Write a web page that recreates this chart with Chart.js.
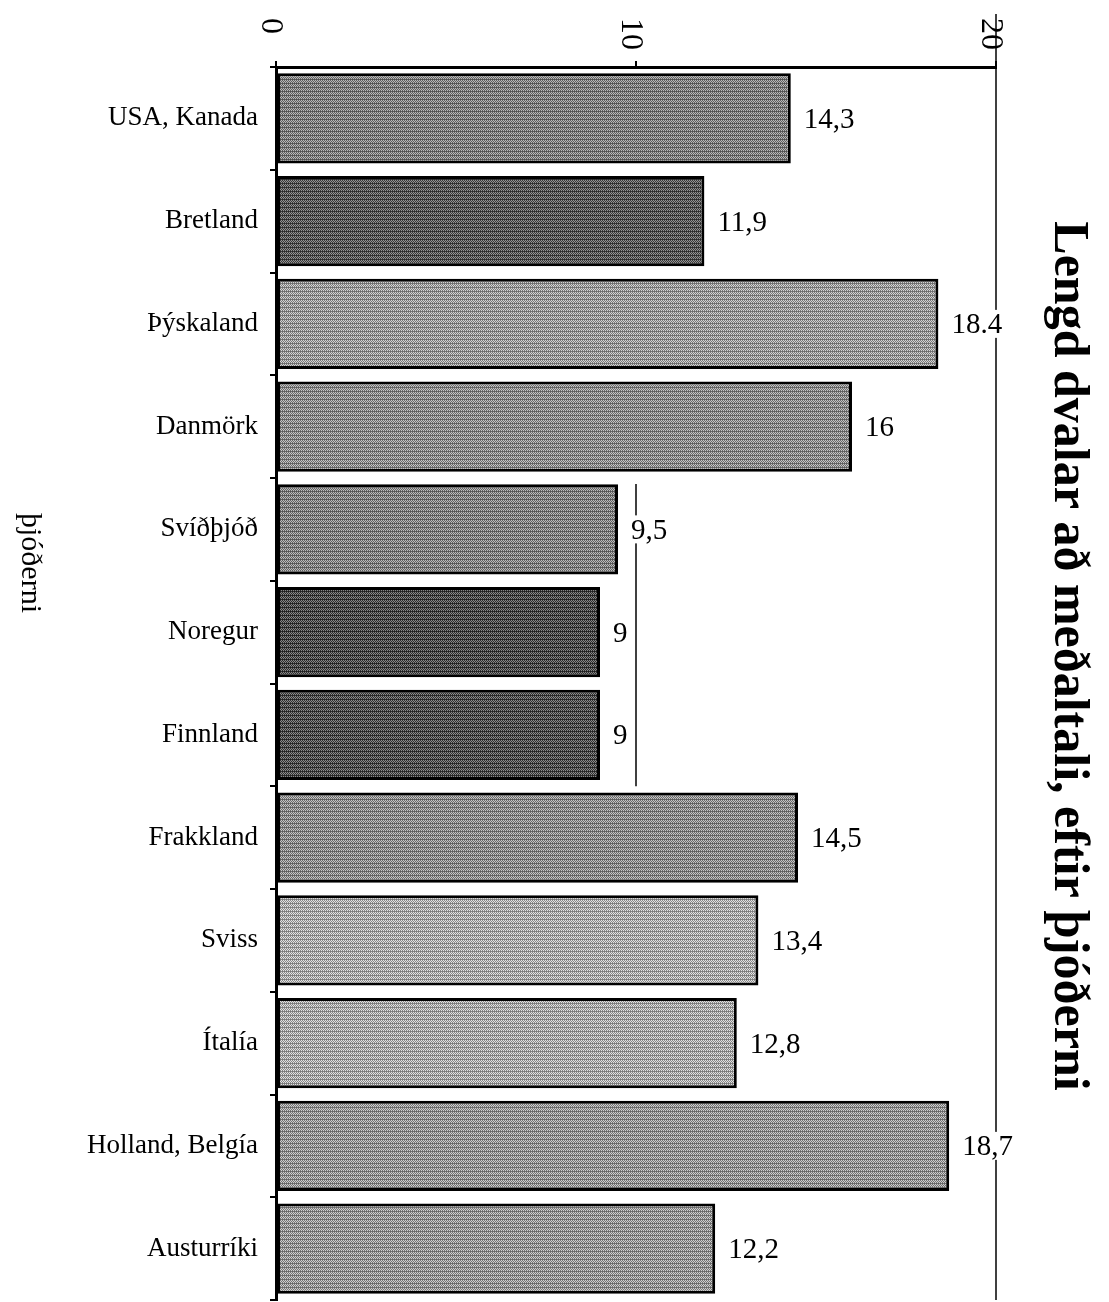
<!DOCTYPE html>
<html>
<head>
<meta charset="utf-8">
<script src="https://cdn.jsdelivr.net/npm/chart.js@4/dist/chart.umd.min.js"></script>
<style>
  html, body { margin: 0; padding: 0; background: #fff; }
  #wrap { width: 1109px; height: 1302px; }
</style>
</head>
<body>
<div id="wrap"><canvas id="chart"></canvas></div>
<script>
// data
const countries = ["USA, Kanada", "Bretland", "Þýskaland", "Danmörk", "Svíðþjóð", "Noregur",
  "Finnland", "Frakkland", "Sviss", "Ítalía", "Holland, Belgía", "Austurríki"];
const stayLength = [14.3, 11.9, 18.4, 16, 9.5, 9, 9, 14.5, 13.4, 12.8, 18.7, 12.2];
const valueLabels = ["14,3", "11,9", "18.4", "16", "9,5", "9", "9", "14,5", "13,4", "12,8", "18,7", "12,2"];
const axisTicks = [0, 10, 20];
const title = "Lengd dvalar að meðaltali, eftir þjóðerni";
const yTitle = "þjóðerni";

const barGreys = [140, 102, 166, 151, 142, 90, 94, 152, 182, 180, 160, 162];
const serif = "'Liberation Serif', 'DejaVu Serif', serif";

// small halftone-ish tile so the bars look a bit like the scanned screen
function halftone(g) {
  const c = document.createElement("canvas");
  c.width = 4; c.height = 4;
  const x = c.getContext("2d");
  for (let i = 0; i < 4; i++) {
    for (let j = 0; j < 4; j++) {
      let v = (i + j) % 2 === 0 ? g - 45 : g + 45;
      if (j === 3 && i % 2 === 0) v = g - 60;
      v = Math.max(0, Math.min(255, v));
      x.fillStyle = "rgb(" + v + "," + v + "," + v + ")";
      x.fillRect(i, j, 1, 1);
    }
  }
  return x.createPattern(c, "repeat");
}

// draws the rotated texts, value labels and the odd partial rules of the scan
const decorPlugin = {
  id: "decor",
  afterDatasetsDraw(chart) {
    const ctx = chart.ctx;
    const xs = chart.scales.x;
    const ys = chart.scales.y;
    const area = chart.chartArea;
    const half = (ys.getPixelForValue(1) - ys.getPixelForValue(0)) / 2;

    ctx.save();
    ctx.strokeStyle = "#000";
    ctx.lineWidth = 1.5;
    // rule at 20 runs the full height
    let x20 = xs.getPixelForValue(20);
    ctx.beginPath();
    ctx.moveTo(x20, 14);
    ctx.lineTo(x20, area.bottom);
    ctx.stroke();
    // rule at 10 only shows beside the short bars
    let x10 = xs.getPixelForValue(10);
    ctx.beginPath();
    ctx.moveTo(x10, ys.getPixelForValue(4) - half + 6);
    ctx.lineTo(x10, ys.getPixelForValue(6) + half);
    ctx.stroke();

    // value labels with a white box so they cut the rules
    ctx.font = "29px " + serif;
    ctx.textBaseline = "middle";
    ctx.textAlign = "left";
    const meta = chart.getDatasetMeta(0);
    meta.data.forEach((bar, i) => {
      const t = valueLabels[i];
      const w = ctx.measureText(t).width;
      const lx = bar.x + 13;
      ctx.fillStyle = "#fff";
      ctx.fillRect(lx - 1, bar.y - 14, w + 2, 28);
      ctx.fillStyle = "#000";
      ctx.fillText(t, lx, bar.y + 2);
    });

    // rotated tick labels on the top axis (clockwise)
    ctx.font = "32px " + serif;
    axisTicks.forEach(v => {
      const px = xs.getPixelForValue(v);
      ctx.save();
      ctx.translate(px - 6, 18);
      ctx.rotate(Math.PI / 2);
      ctx.textAlign = "left";
      ctx.textBaseline = "middle";
      ctx.fillText(String(v), 0, 0);
      ctx.restore();
    });

    // title on the right
    ctx.save();
    ctx.translate(1068, 656);
    ctx.rotate(Math.PI / 2);
    ctx.font = "bold 50px " + serif;
    ctx.textAlign = "center";
    ctx.textBaseline = "middle";
    ctx.fillText(title, 0, 0);
    ctx.restore();

    // category axis title on the left
    ctx.save();
    ctx.translate(30, 563);
    ctx.rotate(Math.PI / 2);
    ctx.font = "30px " + serif;
    ctx.textAlign = "center";
    ctx.textBaseline = "middle";
    ctx.fillText(yTitle, 0, 0);
    ctx.restore();
    ctx.restore();
  }
};

new Chart(document.getElementById("chart"), {
  type: "bar",
  data: {
    labels: countries,
    datasets: [{
      data: stayLength,
      backgroundColor: barGreys.map(halftone),
      borderColor: "#000",
      borderWidth: 3,
      borderSkipped: false,
      barPercentage: 0.88,
      categoryPercentage: 1
    }]
  },
  options: {
    indexAxis: "y",
    responsive: true,
    maintainAspectRatio: false,
    animation: false,
    layout: { padding: { left: 0, right: 113, top: 0, bottom: 2 } },
    plugins: { legend: { display: false }, tooltip: { enabled: false } },
    scales: {
      x: {
        position: "top",
        min: 0,
        max: 20,
        ticks: { stepSize: 10, display: false },
        grid: { drawOnChartArea: false, drawTicks: true, tickLength: 6, tickColor: "#000", lineWidth: 2 },
        border: { color: "#000", width: 3 },
        afterFit(scale) { scale.height = 67; }
      },
      y: {
        ticks: { color: "#000", font: { family: serif, size: 27 }, padding: 12 },
        grid: { offset: true, drawOnChartArea: false, tickLength: 6, tickColor: "#000", lineWidth: 2 },
        border: { color: "#000", width: 3 },
        afterFit(scale) {
          scale.width = 276;
          scale.paddingTop = 0;
          scale.paddingBottom = 0;
        }
      }
    }
  },
  plugins: [decorPlugin]
});
</script>
</body>
</html>
